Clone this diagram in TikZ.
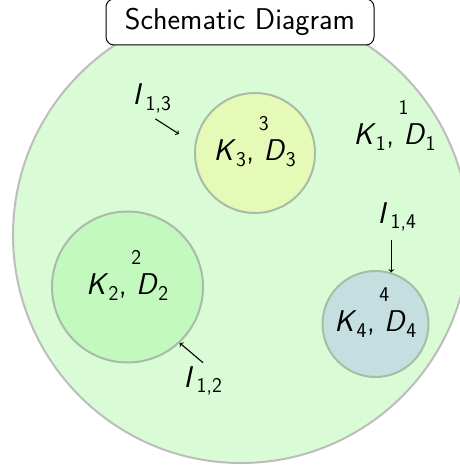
\documentclass[tikz,border=0pt]{standalone}
\usepackage{xcolor}
\definecolor{mint}{HTML}{D9FCD6}
\definecolor{rim}{HTML}{BDBDBD}
\definecolor{leaf}{HTML}{A9BCA5}
\definecolor{lime}{HTML}{E5FAB6}
\definecolor{grass}{HTML}{C3F8BF}
\definecolor{slate}{HTML}{C5DEE0}
\usepackage{tikz}
\usetikzlibrary{positioning,calc}
\newcommand{\smallsize}{\fontsize{21}{24}\selectfont}
\newcommand{\kd}[1]{\textit{K}\textsubscript{#1}, \smash{\makebox[0pt]{\raisebox{1em}{\smallsize #1}}}\textit{D}\textsubscript{#1}}
\newcommand{\ilab}[1]{\textit{I}\hspace{0.12em}\textsubscript{#1}}
\tikzset{
  every picture/.style={font=\fontsize{30}{36}\selectfont\sffamily},
  blob/.style={circle, draw=leaf, line width=2pt, inner sep=0pt, minimum size=#1},
  blob/.default=120pt,
  world/.style={blob=#1, draw=rim, fill=mint},
  titlebox/.style={draw=black, fill=white, rounded corners=8pt, line width=1pt,
    minimum width=268pt, minimum height=46pt, inner sep=0pt},
  arrow/.style={->, line width=1.1pt, draw=black},
  lab/.style={anchor=base west},
}
\begin{document}
\begin{tikzpicture}[x=1pt, y=-1pt]
  \useasboundingbox (0,0) rectangle (459,465);
  % outer system
  \node[world=456pt] (c1) at (241,235) {};
  \node[lab] (kd1) at (350,145) {\kd{1}};
  % subsystems
  \node[blob=120pt, fill=lime] (c3) at (255,153) {\kd{3}};
  \node[blob=151pt, fill=grass] (c2) at (127.5,287) {\kd{2}};
  \node[blob=106pt, fill=slate] (c4) at (375.5,324) {\kd{4}};
  % interfaces
  \node[lab] (l13) at (129,105) {\ilab{1,3}};
  \node[lab] (l14) at (374,223) {\ilab{1,4}};
  \node[lab] (l12) at (180,387) {\ilab{1,2}};
  \coordinate (t13) at (179,134);
  \draw[arrow, shorten <=4pt] (l13.south) -- (t13);
  \draw[arrow, shorten <=5pt] (l14.south -| c4.73) -- (c4.73);
  \draw[arrow] (l12.north) -- (c2.-47);
  \node[titlebox] (title) at (240,22) {Schematic Diagram};
\end{tikzpicture}
\end{document}
